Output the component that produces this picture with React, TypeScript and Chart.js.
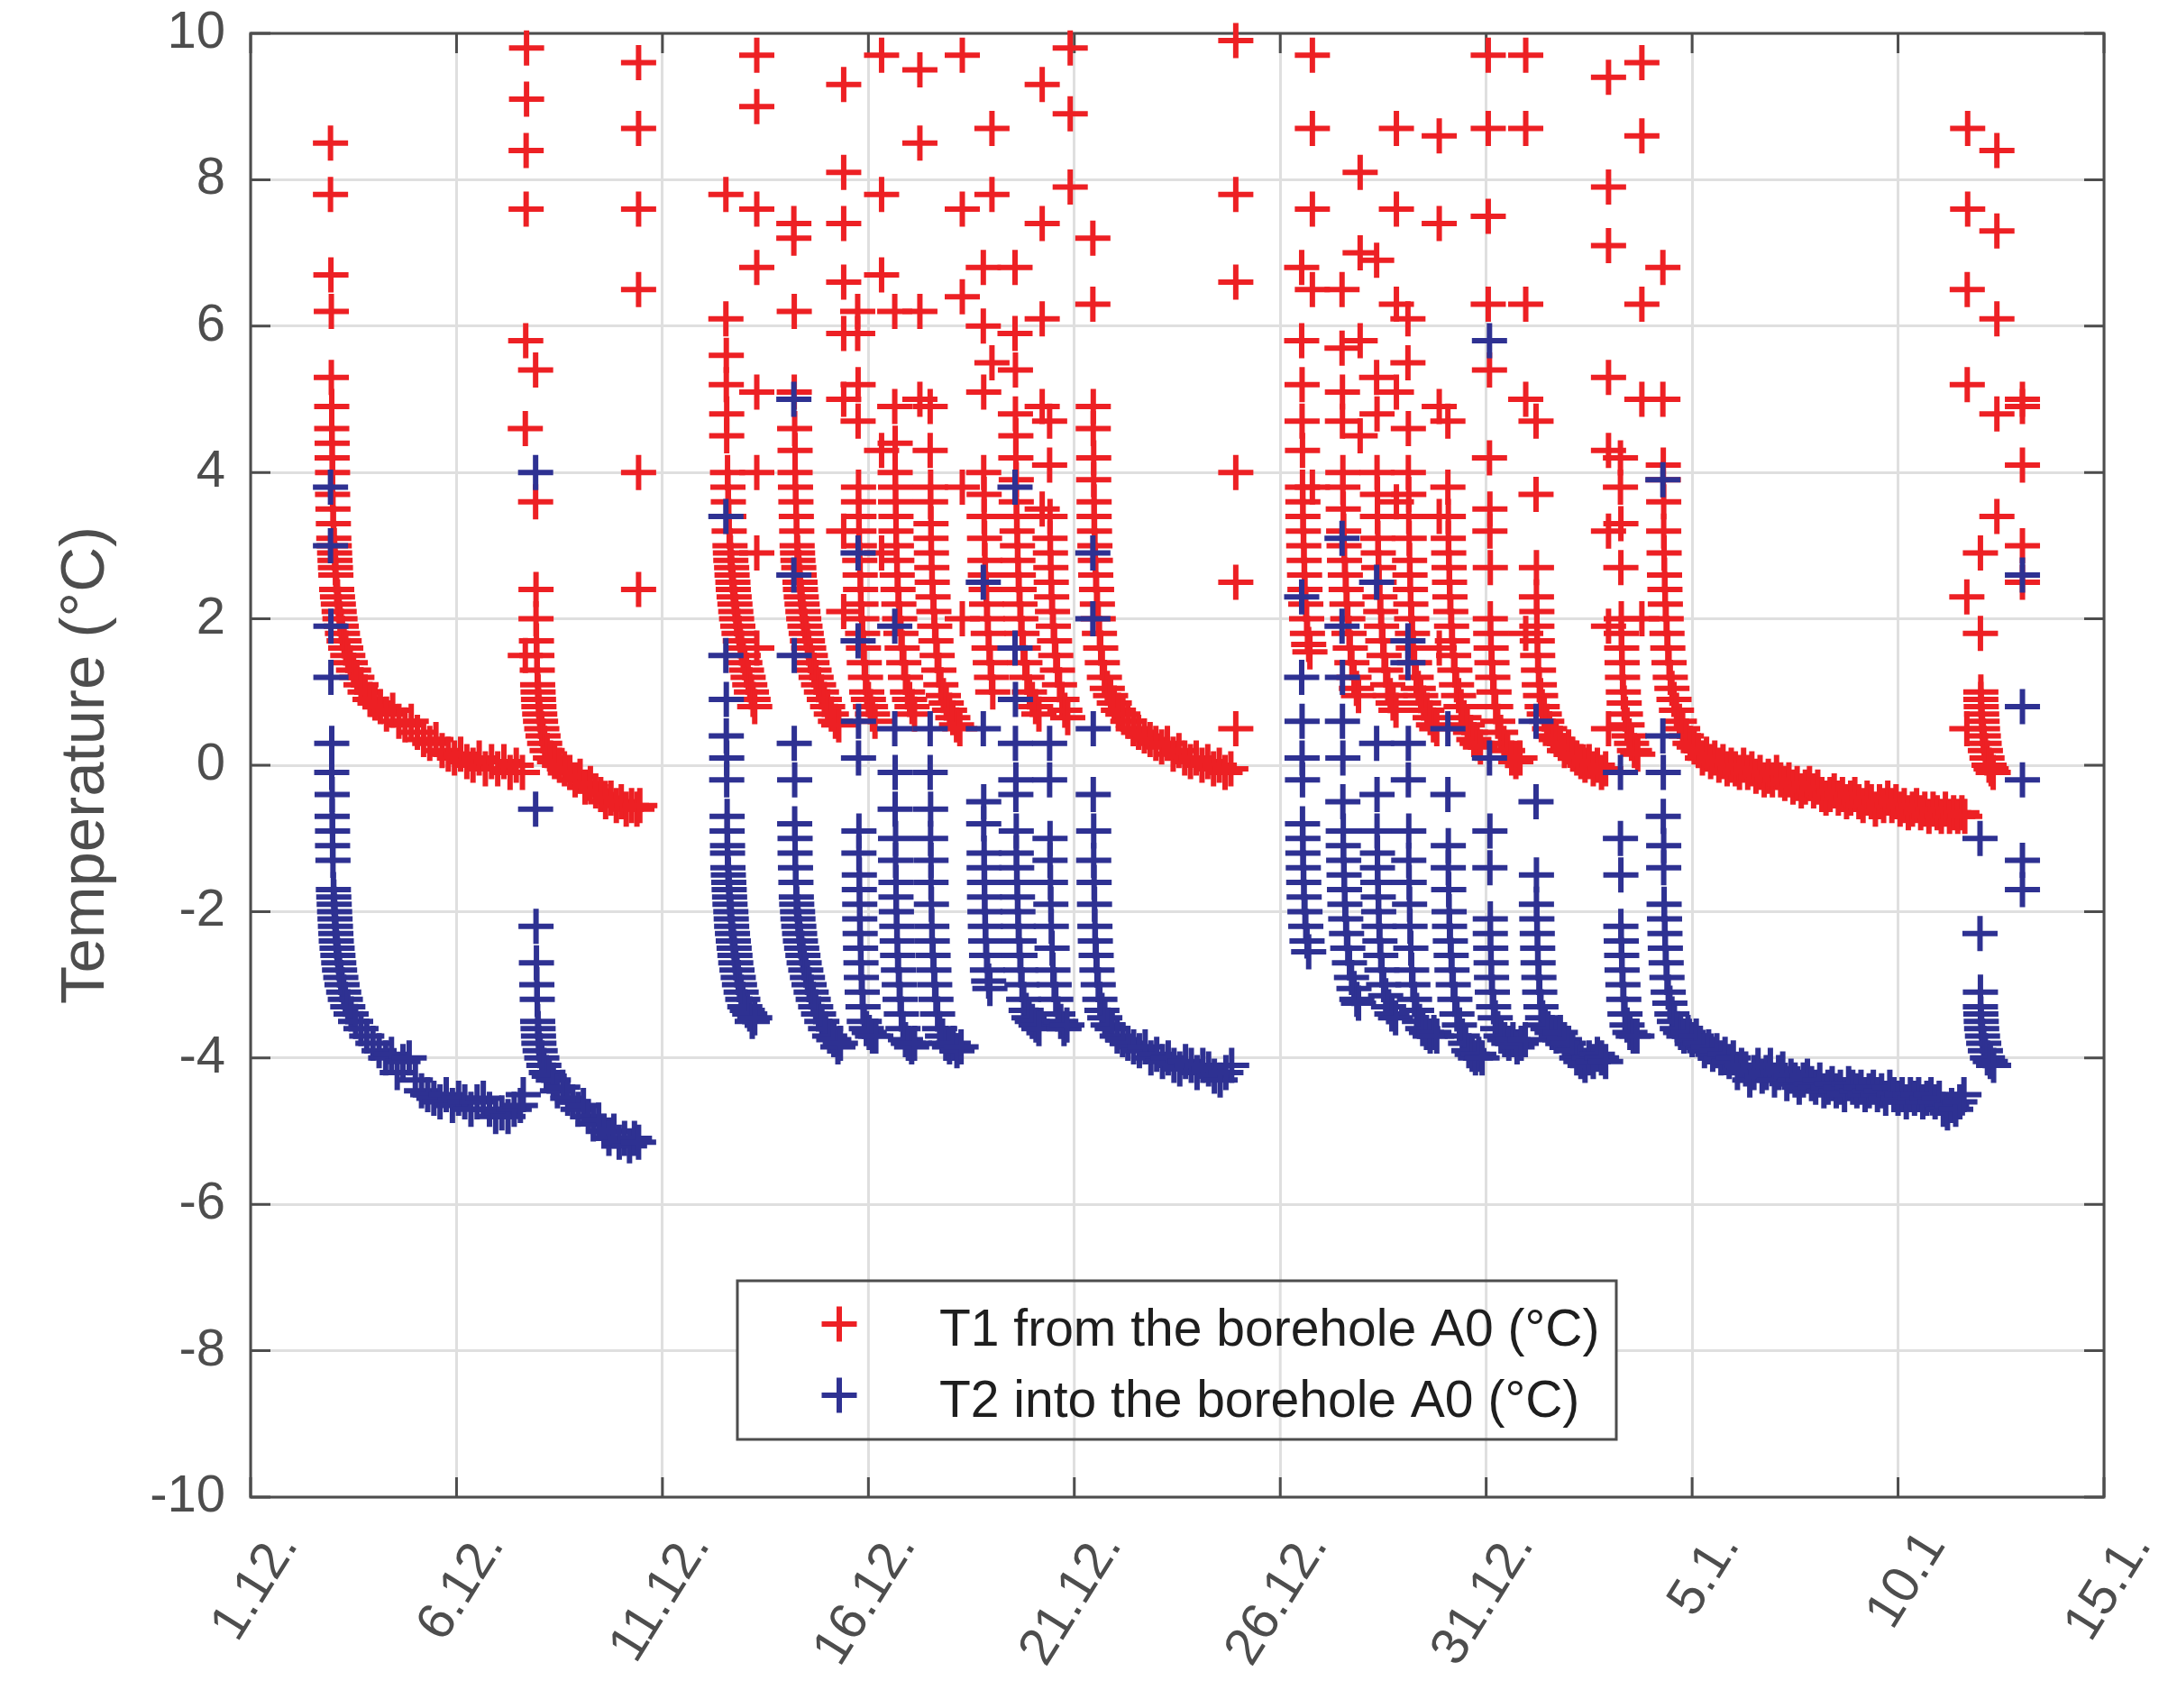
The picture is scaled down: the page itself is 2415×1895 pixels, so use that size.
import React, { useEffect, useRef } from "react";
import { Chart, registerables } from "chart.js";

Chart.register(...registerables);

// ---------- axis ticks ----------
const X_TICK_VALUES = [0, 5, 10, 15, 20, 25, 30, 35, 40, 45];
const X_TICK_LABELS = ["1.12.", "6.12.", "11.12.", "16.12.", "21.12.", "26.12.", "31.12.", "5.1.", "10.1", "15.1."];
const Y_TICK_VALUES = [-10, -8, -6, -4, -2, 0, 2, 4, 6, 8, 10];

const SERIES_NAMES = ["T1 from the borehole A0 (°C)", "T2 into the borehole A0 (°C)"];
const Y_TITLE = "Temperature (°C)";

// ---------- T1 (red), x = days since 1.12., y = °C ----------
const t1Dec2to7: [number, number][] = [
  [1.94,8.5],[1.94,7.8],[1.95,6.7],[1.96,6.2],[1.96,5.3],[1.97,4.9],[1.97,4.6],[1.98,4.4],[1.98,4.2],[1.99,4.0],
  [1.99,3.7],[2.0,3.5],[2.01,3.3],[2.02,3.1],[2.03,3.0],[2.04,2.9],[2.05,2.8],[2.06,2.7],[2.07,2.6],[2.09,2.4],
  [2.11,2.3],[2.13,2.2],[2.15,2.1],[2.17,2.0],[2.2,1.9],[2.23,1.8],[2.27,1.7],[2.31,1.6],[2.36,1.5],[2.42,1.4],
  [2.5,1.3],[2.58,1.2],[2.68,1.1],[2.78,1.0],[2.9,0.9],[3.02,0.85],[3.15,0.8],[3.3,0.7],[3.45,0.75],[3.6,0.6],
  [3.75,0.55],[3.9,0.6],[4.05,0.45],[4.2,0.35],[4.35,0.3],[4.5,0.35],[4.65,0.2],[4.8,0.15],[4.95,0.1],[5.1,0.15],
  [5.25,0.05],[5.4,0.0],[5.55,0.1],[5.7,-0.05],[5.85,0.05],[6.0,-0.05],[6.15,0.05],[6.3,-0.1],[6.45,0.0],[6.6,-0.1],
];
const t1Dec7to10: [number, number][] = [
  [6.7,9.8],[6.7,9.1],[6.69,8.4],[6.69,7.6],[6.68,5.8],[6.67,4.6],[6.67,1.5],[6.92,5.4],[6.92,3.6],[6.93,2.4],
  [6.93,2.0],[6.94,1.7],[6.95,1.5],[6.96,1.3],[6.97,1.1],[6.98,1.0],[6.99,0.9],[7.0,0.8],[7.02,0.7],[7.04,0.6],
  [7.07,0.5],[7.1,0.4],[7.14,0.3],[7.2,0.2],[7.28,0.1],[7.38,0.05],[7.5,0.0],[7.62,-0.05],[7.75,-0.1],[7.88,-0.2],
  [8.0,-0.15],[8.12,-0.3],[8.25,-0.25],[8.38,-0.35],[8.5,-0.4],[8.62,-0.5],[8.75,-0.45],[8.88,-0.55],[9.0,-0.5],
  [9.12,-0.6],[9.25,-0.55],[9.38,-0.6],[9.45,-0.55],
];
const t1Dec12to16: [number, number][] = [
  [11.54,7.8],[11.54,6.1],[11.55,5.6],[11.55,5.2],[11.56,4.8],[11.56,4.5],[11.58,4.0],[11.59,3.8],[11.6,3.6],[11.61,3.4],
  [11.62,3.2],[11.64,3.0],[11.65,2.9],[11.66,2.8],[11.68,2.7],[11.69,2.6],[11.71,2.5],[11.72,2.4],[11.74,2.3],[11.76,2.2],
  [11.78,2.1],[11.8,2.0],[11.83,1.9],[11.86,1.8],[11.89,1.7],[11.92,1.6],[11.96,1.5],[12.0,1.4],[12.04,1.3],[12.08,1.2],
  [12.12,1.1],[12.16,1.0],[12.2,0.9],[12.24,0.8],
  [13.19,7.4],[13.19,7.2],[13.2,6.2],[13.2,5.1],[13.21,4.6],[13.22,4.3],[13.22,4.0],[13.23,3.8],[13.24,3.6],[13.25,3.4],
  [13.26,3.2],[13.27,3.0],[13.28,2.9],[13.29,2.8],[13.31,2.7],[13.32,2.6],[13.34,2.5],[13.35,2.4],[13.37,2.3],[13.39,2.2],
  [13.41,2.1],[13.43,2.0],[13.46,1.9],[13.49,1.8],[13.52,1.7],[13.55,1.6],[13.59,1.5],[13.63,1.4],[13.68,1.3],[13.73,1.2],
  [13.79,1.1],[13.86,1.0],[13.93,0.9],[14.01,0.8],[14.1,0.7],[14.2,0.6],[14.28,0.55],
  [14.74,6.2],[14.74,5.9],[14.75,5.2],[14.75,4.7],[14.76,3.8],[14.76,3.6],[14.77,3.4],[14.77,3.2],[14.78,3.0],[14.79,2.8],
  [14.8,2.6],[14.81,2.4],[14.82,2.2],[14.84,2.0],[14.86,1.8],[14.88,1.6],[14.9,1.4],[14.93,1.2],[14.96,1.0],[15.0,0.9],
  [15.05,0.8],[15.1,0.7],[15.16,0.6],
];
const t1Dec16to21: [number, number][] = [
  [15.64,6.2],[15.64,4.9],[15.65,4.4],[15.65,4.0],[15.66,3.8],[15.66,3.6],[15.67,3.4],[15.67,3.2],[15.68,3.0],[15.69,2.8],
  [15.7,2.6],[15.72,2.4],[15.74,2.2],[15.76,2.0],[15.79,1.8],[15.82,1.6],[15.86,1.4],[15.9,1.2],[15.95,1.0],[16.0,0.9],
  [16.06,0.8],[16.12,0.7],
  [16.5,4.9],[16.5,4.3],[16.51,3.8],[16.51,3.6],[16.52,3.3],[16.52,3.1],[16.53,2.9],[16.54,2.7],[16.55,2.5],[16.57,2.3],
  [16.59,2.1],[16.61,1.9],[16.64,1.7],[16.67,1.5],[16.71,1.3],[16.76,1.1],[16.82,0.95],[16.89,0.85],[16.97,0.75],[17.05,0.65],
  [17.14,0.55],[17.22,0.5],
  [17.79,6.8],[17.79,6.0],[17.8,5.1],[17.8,4.0],[17.81,3.7],[17.81,3.4],[17.82,3.1],[17.83,2.8],[17.84,2.6],[17.86,2.4],
  [17.87,2.2],[17.89,2.0],[17.91,1.8],[17.93,1.6],[17.96,1.4],[17.99,1.2],[18.02,1.0],
  [18.56,6.8],[18.56,5.9],[18.57,5.4],[18.57,4.8],[18.58,4.5],[18.58,4.2],[18.59,3.9],[18.59,3.6],[18.6,3.4],[18.61,3.2],
  [18.62,3.0],[18.63,2.8],[18.64,2.6],[18.66,2.4],[18.68,2.2],[18.7,2.0],[18.73,1.8],[18.76,1.6],[18.8,1.4],[18.85,1.2],
  [18.91,1.0],[18.98,0.9],[19.06,0.8],[19.14,0.7],
  [19.4,4.7],[19.4,4.1],[19.41,3.4],[19.41,3.1],[19.42,2.9],[19.43,2.7],[19.44,2.5],[19.45,2.3],[19.47,2.1],[19.49,1.9],
  [19.52,1.7],[19.55,1.5],[19.59,1.3],[19.64,1.1],[19.7,0.9],[19.77,0.75],[19.84,0.65],
];
const t1Dec21to25: [number, number][] = [
  [20.45,7.2],[20.45,6.3],[20.46,4.9],[20.46,4.6],[20.47,4.2],[20.47,3.9],[20.48,3.6],[20.48,3.4],[20.49,3.2],[20.5,3.0],
  [20.51,2.8],[20.52,2.6],[20.54,2.4],[20.56,2.2],[20.58,2.0],[20.61,1.8],[20.64,1.6],[20.68,1.4],[20.73,1.2],[20.8,1.05],
  [20.88,0.95],[20.97,0.85],[21.07,0.75],[21.18,0.7],[21.3,0.6],[21.43,0.5],[21.56,0.45],[21.7,0.4],[21.84,0.35],[21.98,0.3],
  [22.12,0.25],[22.26,0.3],[22.4,0.15],[22.54,0.2],[22.68,0.1],[22.82,0.05],[22.96,0.1],[23.1,0.0],[23.24,0.05],[23.38,-0.05],
  [23.52,0.0],[23.66,-0.1],[23.8,-0.05],
];
const t1Dec26to31: [number, number][] = [
  [25.52,6.8],[25.52,5.8],[25.53,5.2],[25.53,4.7],[25.54,4.3],[25.54,3.8],[25.55,3.6],[25.55,3.4],[25.56,3.2],[25.57,3.0],
  [25.58,2.8],[25.59,2.6],[25.6,2.4],[25.62,2.2],[25.64,2.0],[25.66,1.8],[25.69,1.65],[25.72,1.55],
  [26.5,6.5],[26.5,5.7],[26.51,5.1],[26.51,4.7],[26.52,4.0],[26.52,3.8],[26.53,3.5],[26.54,3.2],[26.55,3.0],[26.56,2.8],
  [26.58,2.6],[26.6,2.4],[26.62,2.2],[26.64,2.0],[26.67,1.8],[26.7,1.6],[26.74,1.4],[26.79,1.2],[26.85,1.05],[26.9,0.95],
  [27.34,6.9],[27.34,5.3],[27.35,4.8],[27.35,4.0],[27.36,3.7],[27.36,3.4],[27.37,3.1],[27.38,2.9],[27.39,2.7],[27.4,2.5],
  [27.42,2.3],[27.44,2.1],[27.46,1.9],[27.49,1.7],[27.52,1.5],[27.56,1.3],[27.61,1.1],[27.67,0.95],[27.74,0.85],[27.81,0.75],
  [28.1,6.1],[28.1,5.5],[28.11,4.6],[28.11,4.0],[28.12,3.7],[28.12,3.4],[28.13,3.1],[28.14,2.8],[28.15,2.6],[28.16,2.4],
  [28.17,2.2],[28.19,2.0],[28.21,1.8],[28.23,1.6],[28.26,1.4],[28.3,1.2],[28.35,1.05],[28.41,0.95],[28.48,0.85],[28.56,0.75],
  [28.64,0.65],[28.72,0.55],[28.8,0.5],
  [29.07,4.7],[29.07,3.8],[29.08,3.4],[29.08,3.1],[29.09,2.9],[29.1,2.7],[29.11,2.5],[29.12,2.3],[29.14,2.1],[29.16,1.9],
  [29.18,1.7],[29.21,1.5],[29.24,1.3],[29.28,1.1],[29.33,0.95],[29.39,0.8],[29.46,0.65],[29.54,0.55],[29.62,0.45],[29.7,0.35],
  [29.78,0.3],[29.86,0.25],
];
const t1Dec31toJan5: [number, number][] = [
  [30.08,5.4],[30.08,4.2],[30.09,3.5],[30.09,3.2],[30.1,2.7],[30.1,2.0],[30.11,1.8],[30.12,1.6],[30.14,1.4],[30.16,1.2],
  [30.19,1.0],[30.23,0.8],[30.28,0.6],[30.35,0.45],[30.43,0.3],[30.52,0.2],[30.62,0.1],[30.72,0.05],[30.82,0.1],
  [31.21,4.7],[31.21,3.7],[31.22,2.7],[31.22,2.3],[31.23,2.1],[31.23,1.9],[31.24,1.7],[31.25,1.5],[31.27,1.3],[31.29,1.1],
  [31.32,0.95],[31.36,0.8],[31.41,0.7],[31.47,0.6],[31.54,0.5],[31.62,0.4],[31.7,0.35],[31.8,0.3],[31.9,0.2],[32.0,0.25],
  [32.1,0.15],[32.2,0.1],[32.3,0.05],[32.4,0.0],[32.5,0.05],[32.6,-0.05],[32.7,0.0],[32.8,-0.1],[32.9,-0.05],
  [33.26,4.2],[33.26,3.8],[33.27,3.3],[33.27,2.7],[33.28,2.0],[33.28,1.8],[33.29,1.6],[33.3,1.4],[33.31,1.2],[33.33,1.0],
  [33.35,0.85],[33.38,0.7],[33.42,0.55],[33.47,0.4],[33.53,0.3],[33.6,0.2],[33.68,0.15],
];
const t1Jan4to12: [number, number][] = [
  [34.29,6.8],[34.29,5.0],[34.3,4.1],[34.3,3.9],[34.31,3.6],[34.31,3.2],[34.32,2.9],[34.33,2.6],[34.34,2.4],[34.35,2.2],
  [34.37,2.0],[34.39,1.8],[34.41,1.6],[34.44,1.4],[34.47,1.2],[34.51,1.05],[34.56,0.9],[34.62,0.75],[34.69,0.6],[34.77,0.5],
  [34.86,0.4],[34.95,0.3],[35.05,0.25],[35.15,0.2],[35.25,0.1],[35.35,0.15],[35.45,0.05],[35.55,0.1],[35.65,0.0],[35.75,0.05],
  [35.85,-0.05],[35.95,0.0],[36.05,-0.05],[36.15,-0.1],[36.25,0.0],[36.35,-0.1],[36.45,-0.05],[36.55,-0.15],[36.65,-0.1],[36.75,-0.2],
  [36.85,-0.15],[36.95,-0.2],[37.05,-0.1],[37.15,-0.2],[37.25,-0.25],[37.35,-0.2],[37.45,-0.3],[37.55,-0.25],[37.65,-0.35],[37.75,-0.3],
  [37.85,-0.25],[37.95,-0.35],[38.05,-0.3],[38.15,-0.4],[38.25,-0.45],[38.35,-0.4],[38.45,-0.35],[38.55,-0.45],[38.65,-0.4],[38.75,-0.5],
  [38.85,-0.45],[38.95,-0.4],[39.05,-0.5],[39.15,-0.55],[39.25,-0.45],[39.35,-0.5],[39.45,-0.6],[39.55,-0.5],[39.65,-0.55],[39.75,-0.45],
  [39.85,-0.55],[39.95,-0.5],[40.05,-0.6],[40.15,-0.55],[40.25,-0.65],[40.35,-0.6],[40.45,-0.55],[40.55,-0.65],[40.65,-0.6],[40.75,-0.7],
  [40.85,-0.6],[40.95,-0.65],[41.05,-0.7],[41.15,-0.6],[41.25,-0.7],[41.35,-0.65],[41.45,-0.7],[41.55,-0.65],[41.62,-0.7],
  [41.69,8.7],[41.69,7.6],[41.68,6.5],[41.68,5.2],[41.67,2.3],[41.67,0.5],[42.0,2.9],[42.0,1.8],[42.01,1.0],[42.01,0.9],
  [42.02,0.8],[42.03,0.7],[42.04,0.6],[42.05,0.5],[42.07,0.4],[42.09,0.3],[42.12,0.2],[42.16,0.1],[42.21,0.0],[42.26,-0.05],
  [42.31,-0.1],
];
// isolated high readings of T1
const t1Spikes: [number, number][] = [
  [9.42,9.6],[9.42,8.7],[9.42,7.6],[9.42,6.5],[9.42,4.0],[9.42,2.4],
  [12.29,9.7],[12.29,9.0],[12.29,7.6],[12.29,6.8],[12.29,5.1],[12.29,4.0],[12.29,2.9],[12.29,1.6],
  [14.4,9.3],[14.4,8.1],[14.4,7.4],[14.4,6.6],[14.4,5.9],[14.4,5.0],[14.4,3.2],[14.4,2.1],
  [15.32,9.7],[15.32,7.8],[15.32,6.7],[15.32,4.3],[15.32,2.9],
  [16.25,9.5],[16.25,8.5],[16.25,6.2],[16.25,5.0],
  [17.28,9.7],[17.28,7.6],[17.28,6.4],[17.28,3.8],[17.28,2.0],
  [18.0,8.7],[18.0,7.8],[18.0,5.5],
  [19.22,9.3],[19.22,7.4],[19.22,6.1],[19.22,4.9],[19.22,3.5],
  [19.9,9.8],[19.9,8.9],[19.9,7.9],
  [23.92,9.9],[23.92,7.8],[23.92,6.6],[23.92,4.0],[23.92,2.5],[23.92,0.5],
  [25.78,9.7],[25.78,8.7],[25.78,7.6],[25.78,6.5],[25.78,3.8],
  [26.94,8.1],[26.94,7.0],[26.94,5.8],[26.94,4.5],
  [27.82,8.7],[27.82,7.6],[27.82,6.3],[27.82,5.1],[27.82,3.6],
  [28.86,8.6],[28.86,7.4],[28.86,4.9],[28.86,3.4],[28.86,1.6],
  [30.05,9.7],[30.05,8.7],[30.05,7.5],[30.05,6.3],
  [30.96,9.7],[30.96,8.7],[30.96,6.3],[30.96,5.0],[30.96,1.8],
  [32.97,9.4],[32.97,7.9],[32.97,7.1],[32.97,5.3],[32.97,4.3],[32.97,3.2],[32.97,1.9],[32.97,0.5],
  [33.78,9.6],[33.78,8.6],[33.78,6.3],[33.78,5.0],[33.78,2.0],
  [42.4,8.4],[42.4,7.3],[42.4,6.1],[42.4,4.8],[42.4,3.4],
  [43.02,5.0],[43.02,4.9],[43.02,4.1],[43.02,3.0],[43.02,2.5],
];

// ---------- T2 (blue) ----------
const t2Dec2to7: [number, number][] = [
  [1.94,3.8],[1.94,3.0],[1.95,1.9],[1.95,1.2],[1.97,0.3],[1.97,-0.1],[1.98,-0.4],[1.98,-0.7],[1.99,-0.9],[1.99,-1.1],
  [2.0,-1.3],[2.01,-1.7],[2.02,-1.8],[2.03,-1.9],[2.04,-2.0],[2.05,-2.1],[2.06,-2.2],[2.07,-2.3],[2.08,-2.4],[2.1,-2.5],
  [2.12,-2.6],[2.14,-2.7],[2.16,-2.8],[2.19,-2.9],[2.22,-3.0],[2.26,-3.1],[2.3,-3.2],[2.36,-3.3],[2.44,-3.4],[2.55,-3.5],
  [2.68,-3.6],[2.82,-3.7],[2.97,-3.8],[3.12,-3.9],[3.28,-4.0],[3.42,-3.95],[3.56,-4.2],[3.7,-4.05],[3.85,-4.0],[4.0,-4.3],
  [4.15,-4.45],[4.3,-4.5],[4.45,-4.55],[4.6,-4.6],[4.75,-4.5],[4.9,-4.65],[5.05,-4.55],[5.2,-4.6],[5.35,-4.7],[5.5,-4.6],
  [5.65,-4.55],[5.8,-4.7],[5.95,-4.8],[6.1,-4.75],[6.25,-4.8],[6.4,-4.7],[6.55,-4.65],[6.62,-4.5],
];
const t2Dec7to10: [number, number][] = [
  [6.92,4.0],[6.92,-0.6],[6.93,-2.2],[6.94,-2.7],[6.95,-3.0],[6.96,-3.2],[6.97,-3.5],[6.98,-3.6],[6.99,-3.7],[7.0,-3.8],
  [7.03,-3.9],[7.07,-4.0],[7.12,-4.1],[7.18,-4.2],[7.25,-4.25],[7.35,-4.3],[7.45,-4.45],[7.58,-4.4],[7.7,-4.55],[7.82,-4.6],
  [7.95,-4.7],[8.08,-4.65],[8.2,-4.8],[8.32,-4.9],[8.45,-4.85],[8.58,-5.0],[8.7,-5.1],[8.82,-5.0],[8.95,-5.15],[9.08,-5.1],
  [9.2,-5.2],[9.32,-5.1],[9.42,-5.15],
];
const t2Dec12to16: [number, number][] = [
  [11.54,3.4],[11.54,1.5],[11.55,0.9],[11.55,0.4],[11.56,0.1],[11.56,-0.2],[11.57,-0.7],[11.57,-0.9],[11.58,-1.1],[11.58,-1.2],
  [11.59,-1.4],[11.6,-1.5],[11.61,-1.6],[11.62,-1.7],[11.63,-1.8],[11.64,-1.9],[11.66,-2.0],[11.67,-2.1],[11.68,-2.2],[11.7,-2.3],
  [11.72,-2.4],[11.74,-2.5],[11.76,-2.6],[11.78,-2.7],[11.81,-2.8],[11.84,-2.9],[11.87,-3.0],[11.91,-3.1],[11.95,-3.2],[12.0,-3.3],
  [12.06,-3.35],[12.12,-3.4],[12.18,-3.5],[12.24,-3.45],
  [13.19,5.0],[13.19,2.6],[13.2,1.5],[13.2,0.3],[13.21,-0.2],[13.21,-0.8],[13.22,-1.0],[13.22,-1.2],[13.23,-1.4],[13.24,-1.6],
  [13.25,-1.8],[13.26,-1.9],[13.28,-2.0],[13.29,-2.1],[13.31,-2.2],[13.33,-2.3],[13.35,-2.4],[13.38,-2.5],[13.41,-2.6],[13.44,-2.7],
  [13.48,-2.8],[13.52,-2.9],[13.56,-3.0],[13.61,-3.1],[13.66,-3.2],[13.72,-3.3],[13.79,-3.4],[13.87,-3.5],[13.96,-3.6],[14.06,-3.7],
  [14.16,-3.75],[14.26,-3.85],[14.32,-3.8],
  [14.75,2.9],[14.75,1.7],[14.76,0.6],[14.76,0.1],[14.77,-0.9],[14.77,-1.2],[14.78,-1.5],[14.78,-1.7],[14.79,-1.9],[14.79,-2.1],
  [14.8,-2.3],[14.81,-2.5],[14.82,-2.7],[14.83,-2.9],[14.85,-3.1],[14.87,-3.3],[14.9,-3.5],[14.95,-3.6],[15.02,-3.65],[15.1,-3.7],
  [15.18,-3.7],
];
const t2Dec16to21: [number, number][] = [
  [15.64,1.9],[15.64,0.5],[15.65,-0.1],[15.65,-0.6],[15.66,-1.0],[15.66,-1.3],[15.67,-1.6],[15.67,-1.8],[15.68,-2.0],[15.69,-2.2],
  [15.7,-2.4],[15.71,-2.6],[15.73,-2.8],[15.75,-3.0],[15.77,-3.2],[15.8,-3.4],[15.84,-3.6],[15.9,-3.75],[15.97,-3.8],[16.05,-3.85],
  [16.12,-3.8],
  [16.5,0.5],[16.5,-0.1],[16.51,-0.6],[16.51,-1.0],[16.52,-1.3],[16.52,-1.6],[16.53,-1.9],[16.54,-2.2],[16.55,-2.4],[16.57,-2.6],
  [16.59,-2.8],[16.61,-3.0],[16.64,-3.2],[16.68,-3.4],[16.73,-3.6],[16.8,-3.7],[16.88,-3.8],[16.97,-3.85],[17.06,-3.8],[17.15,-3.9],
  [17.25,-3.85],
  [17.79,2.5],[17.79,0.5],[17.8,-0.5],[17.8,-0.8],[17.81,-1.2],[17.81,-1.4],[17.82,-1.6],[17.82,-1.8],[17.83,-2.0],[17.84,-2.2],
  [17.85,-2.4],[17.87,-2.6],[17.89,-2.8],[17.92,-2.95],[17.95,-3.05],
  [18.56,3.8],[18.56,1.6],[18.57,0.9],[18.57,0.3],[18.58,-0.2],[18.58,-0.4],[18.59,-0.9],[18.59,-1.2],[18.6,-1.4],[18.61,-1.6],
  [18.62,-1.8],[18.63,-2.0],[18.64,-2.2],[18.66,-2.4],[18.68,-2.6],[18.7,-2.8],[18.73,-3.0],[18.77,-3.2],[18.83,-3.35],[18.9,-3.45],
  [18.98,-3.5],[19.07,-3.55],[19.14,-3.6],
  [19.4,0.3],[19.4,-0.2],[19.41,-1.0],[19.41,-1.3],[19.42,-1.6],[19.43,-1.9],[19.44,-2.2],[19.46,-2.5],[19.48,-2.8],[19.51,-3.0],
  [19.55,-3.2],[19.6,-3.4],[19.67,-3.5],[19.75,-3.6],[19.82,-3.55],
];
const t2Dec21to25: [number, number][] = [
  [20.45,2.9],[20.45,2.0],[20.46,0.5],[20.46,-0.4],[20.47,-0.9],[20.47,-1.3],[20.48,-1.6],[20.49,-1.9],[20.5,-2.2],[20.51,-2.4],
  [20.53,-2.6],[20.55,-2.8],[20.58,-3.0],[20.62,-3.2],[20.67,-3.35],[20.74,-3.45],[20.82,-3.55],[20.92,-3.6],[21.04,-3.7],[21.17,-3.75],
  [21.3,-3.8],[21.44,-3.85],[21.58,-3.9],[21.72,-3.85],[21.86,-4.0],[22.0,-3.95],[22.14,-4.05],[22.28,-4.0],[22.42,-4.1],[22.56,-4.15],
  [22.7,-4.05],[22.84,-4.1],[22.98,-4.2],[23.12,-4.1],[23.26,-4.15],[23.4,-4.25],[23.54,-4.3],[23.68,-4.2],[23.82,-4.1],
];
const t2Dec26to31: [number, number][] = [
  [25.52,2.3],[25.52,1.2],[25.53,0.6],[25.53,0.1],[25.54,-0.2],[25.54,-0.8],[25.55,-1.0],[25.55,-1.2],[25.56,-1.4],[25.57,-1.6],
  [25.58,-1.8],[25.6,-2.0],[25.62,-2.2],[25.65,-2.4],[25.69,-2.55],
  [26.5,3.1],[26.5,1.9],[26.51,1.2],[26.51,0.6],[26.52,0.1],[26.52,-0.5],[26.53,-0.9],[26.53,-1.1],[26.54,-1.3],[26.55,-1.5],
  [26.56,-1.7],[26.57,-1.9],[26.59,-2.1],[26.61,-2.3],[26.64,-2.5],[26.68,-2.7],[26.73,-2.9],[26.79,-3.05],[26.86,-3.2],[26.9,-3.25],
  [27.34,2.5],[27.34,0.3],[27.35,-0.4],[27.35,-0.9],[27.36,-1.2],[27.36,-1.4],[27.37,-1.6],[27.38,-1.8],[27.39,-2.0],[27.4,-2.2],
  [27.42,-2.4],[27.44,-2.6],[27.47,-2.8],[27.51,-3.0],[27.56,-3.15],[27.63,-3.3],[27.71,-3.4],[27.8,-3.45],
  [28.1,1.7],[28.1,1.4],[28.11,0.3],[28.11,-0.2],[28.12,-0.9],[28.12,-1.3],[28.13,-1.6],[28.14,-1.9],[28.15,-2.2],[28.17,-2.5],
  [28.19,-2.8],[28.22,-3.0],[28.26,-3.2],[28.31,-3.35],[28.38,-3.5],[28.46,-3.6],[28.55,-3.65],[28.64,-3.7],[28.73,-3.65],[28.8,-3.7],
  [29.07,0.5],[29.07,-0.4],[29.08,-1.1],[29.08,-1.4],[29.09,-1.7],[29.1,-2.0],[29.11,-2.2],[29.13,-2.4],[29.15,-2.6],[29.17,-2.8],
  [29.2,-3.0],[29.24,-3.2],[29.29,-3.4],[29.35,-3.55],[29.42,-3.7],[29.5,-3.8],[29.58,-3.9],[29.66,-3.95],[29.74,-4.0],[29.82,-3.95],
  [29.9,-4.0],
];
const t2Dec31toJan5: [number, number][] = [
  [30.08,5.8],[30.08,0.1],[30.09,-0.9],[30.09,-1.4],[30.1,-2.1],[30.1,-2.3],[30.11,-2.5],[30.12,-2.7],[30.13,-2.9],[30.15,-3.1],
  [30.18,-3.3],[30.22,-3.45],[30.28,-3.6],[30.36,-3.7],[30.45,-3.75],[30.55,-3.8],[30.65,-3.75],[30.75,-3.85],[30.85,-3.8],[30.95,-3.75],
  [31.21,0.6],[31.21,-0.5],[31.22,-1.5],[31.22,-1.9],[31.23,-2.1],[31.24,-2.3],[31.25,-2.5],[31.26,-2.7],[31.28,-2.9],[31.3,-3.1],
  [31.33,-3.3],[31.37,-3.45],[31.43,-3.55],[31.5,-3.6],[31.6,-3.65],[31.7,-3.7],[31.8,-3.65],[31.9,-3.75],[32.0,-3.8],[32.1,-3.9],
  [32.2,-4.0],[32.3,-4.05],[32.4,-4.1],[32.5,-4.0],[32.6,-4.05],[32.7,-3.95],[32.8,-4.0],[32.9,-4.05],
  [33.26,-0.1],[33.26,-1.0],[33.27,-1.5],[33.27,-2.2],[33.28,-2.4],[33.29,-2.6],[33.3,-2.8],[33.32,-3.0],[33.34,-3.2],[33.37,-3.4],
  [33.42,-3.55],[33.49,-3.65],[33.57,-3.7],[33.66,-3.7],
];
const t2Jan4to13: [number, number][] = [
  [34.29,3.9],[34.29,0.4],[34.3,-0.1],[34.3,-0.7],[34.31,-1.1],[34.31,-1.4],[34.32,-1.9],[34.33,-2.1],[34.34,-2.3],[34.35,-2.5],
  [34.37,-2.7],[34.39,-2.9],[34.42,-3.1],[34.46,-3.25],[34.51,-3.4],[34.57,-3.5],[34.64,-3.6],[34.72,-3.65],[34.8,-3.7],[34.9,-3.65],
  [35.0,-3.75],[35.1,-3.7],[35.2,-3.8],[35.3,-3.9],[35.4,-3.85],[35.5,-3.95],[35.6,-3.9],[35.7,-4.0],[35.8,-3.95],[35.9,-4.05],
  [36.0,-4.0],[36.1,-4.2],[36.2,-4.1],[36.3,-4.15],[36.4,-4.3],[36.5,-4.2],[36.6,-4.1],[36.7,-4.25],[36.8,-4.2],[36.9,-4.1],
  [37.0,-4.3],[37.1,-4.2],[37.2,-4.15],[37.3,-4.35],[37.4,-4.25],[37.5,-4.3],[37.6,-4.4],[37.7,-4.3],[37.8,-4.25],[37.9,-4.35],
  [38.0,-4.4],[38.1,-4.3],[38.2,-4.45],[38.3,-4.4],[38.4,-4.35],[38.5,-4.45],[38.6,-4.4],[38.7,-4.5],[38.8,-4.35],[38.9,-4.4],
  [39.0,-4.45],[39.1,-4.4],[39.2,-4.5],[39.3,-4.45],[39.4,-4.4],[39.5,-4.5],[39.6,-4.45],[39.7,-4.55],[39.8,-4.4],[39.9,-4.5],
  [40.0,-4.55],[40.1,-4.5],[40.2,-4.6],[40.3,-4.5],[40.4,-4.55],[40.5,-4.5],[40.6,-4.6],[40.7,-4.55],[40.8,-4.5],[40.9,-4.6],
  [41.0,-4.55],[41.1,-4.7],[41.2,-4.75],[41.3,-4.65],[41.4,-4.7],[41.5,-4.6],[41.6,-4.5],
  [41.99,-1.0],[41.99,-2.3],[42.0,-3.1],[42.0,-3.3],[42.01,-3.4],[42.02,-3.5],[42.03,-3.6],[42.05,-3.7],[42.08,-3.8],[42.12,-3.9],
  [42.17,-4.0],[42.24,-4.05],[42.32,-4.1],
  [43.02,2.6],[43.02,0.8],[43.02,-0.2],[43.02,-1.3],[43.02,-1.7],
];

const T1_POINTS = [
  ...t1Dec2to7, ...t1Dec7to10, ...t1Dec12to16, ...t1Dec16to21, ...t1Dec21to25,
  ...t1Dec26to31, ...t1Dec31toJan5, ...t1Jan4to12, ...t1Spikes,
].map(([x, y]) => ({ x, y }));
const T2_POINTS = [
  ...t2Dec2to7, ...t2Dec7to10, ...t2Dec12to16, ...t2Dec16to21, ...t2Dec21to25,
  ...t2Dec26to31, ...t2Dec31toJan5, ...t2Jan4to13,
].map(([x, y]) => ({ x, y }));

// ---------- styling ----------
const W = 2415;
const H = 1895;
const RED = "#ED2024";
const BLUE = "#2E3192";
const AXIS = "#4D4D4D";
const GRID = "#DFDFDF";
const FONT = "'Liberation Sans', Arial, Helvetica, sans-serif";
const MARK_R = 19.5;
const MARK_W = 6;

function crossAt(ctx: CanvasRenderingContext2D, x: number, y: number, color: string) {
  ctx.save();
  ctx.strokeStyle = color;
  ctx.lineWidth = MARK_W;
  ctx.beginPath();
  ctx.moveTo(x - MARK_R, y);
  ctx.lineTo(x + MARK_R, y);
  ctx.moveTo(x, y - MARK_R);
  ctx.lineTo(x, y + MARK_R);
  ctx.stroke();
  ctx.restore();
}

const framePlugin = {
  id: "frame",
  beforeDatasetsDraw(chart: any) {
    const { ctx, chartArea: a, scales } = chart;
    const L = 22;
    ctx.save();
    ctx.strokeStyle = AXIS;
    ctx.lineWidth = 3;
    ctx.beginPath();
    for (const v of Y_TICK_VALUES) {
      const y = scales.y.getPixelForValue(v);
      ctx.moveTo(a.left, y); ctx.lineTo(a.left + L, y);
      ctx.moveTo(a.right, y); ctx.lineTo(a.right - L, y);
    }
    for (const v of X_TICK_VALUES) {
      const x = scales.x.getPixelForValue(v);
      ctx.moveTo(x, a.bottom); ctx.lineTo(x, a.bottom - L);
      ctx.moveTo(x, a.top); ctx.lineTo(x, a.top + L);
    }
    ctx.stroke();
    ctx.strokeRect(a.left, a.top, a.right - a.left, a.bottom - a.top);
    ctx.restore();
  },
};

const legendPlugin = {
  id: "boxLegend",
  afterDatasetsDraw(chart: any) {
    const { ctx, scales } = chart;
    const bx = 818, by = 1421, bw = 975, bh = 176;
    ctx.save();
    ctx.fillStyle = "#FFFFFF";
    ctx.fillRect(bx, by, bw, bh);
    // vertical grid lines show through the legend in the original
    ctx.strokeStyle = GRID;
    ctx.lineWidth = 3;
    ctx.beginPath();
    for (const v of X_TICK_VALUES) {
      const x = scales.x.getPixelForValue(v);
      if (x > bx && x < bx + bw) { ctx.moveTo(x, by); ctx.lineTo(x, by + bh); }
    }
    ctx.stroke();
    ctx.strokeStyle = AXIS;
    ctx.lineWidth = 3;
    ctx.strokeRect(bx, by, bw, bh);
    const rows = [1469, 1548];
    const colors = [RED, BLUE];
    ctx.font = `57px ${FONT}`;
    ctx.fillStyle = "#1E1E1E";
    ctx.textAlign = "left";
    ctx.textBaseline = "alphabetic";
    rows.forEach((ry, i) => {
      crossAt(ctx, 931, ry, colors[i]);
      ctx.fillText(SERIES_NAMES[i], 1042, ry + 24);
    });
    ctx.restore();
  },
};

export default function App() {
  const ref = useRef<HTMLCanvasElement | null>(null);

  useEffect(() => {
    if (!ref.current) return;
    const chart = new Chart(ref.current, {
      type: "scatter",
      data: {
        datasets: [
          {
            label: SERIES_NAMES[0],
            data: T1_POINTS,
            pointStyle: "cross",
            pointRadius: MARK_R,
            pointBorderWidth: MARK_W,
            borderColor: RED,
            backgroundColor: RED,
            pointHoverRadius: MARK_R,
            showLine: false,
            clip: false,
            order: 1,
          },
          {
            label: SERIES_NAMES[1],
            data: T2_POINTS,
            pointStyle: "cross",
            pointRadius: MARK_R,
            pointBorderWidth: MARK_W,
            borderColor: BLUE,
            backgroundColor: BLUE,
            pointHoverRadius: MARK_R,
            showLine: false,
            clip: false,
            order: 0,
          },
        ],
      },
      options: {
        responsive: false,
        devicePixelRatio: 1,
        animation: false,
        events: [],
        layout: { padding: { left: 0, top: 37, right: 81, bottom: 0 } },
        plugins: { legend: { display: false }, tooltip: { enabled: false } },
        scales: {
          x: {
            type: "linear",
            min: 0,
            max: 45,
            afterFit: (s: any) => { s.height = 234; s.paddingLeft = 0; s.paddingRight = 0; },
            afterBuildTicks: (s: any) => { s.ticks = X_TICK_VALUES.map((v) => ({ value: v })); },
            grid: { color: GRID, lineWidth: 3, drawTicks: false },
            border: { display: false },
            ticks: {
              autoSkip: false,
              minRotation: 58,
              maxRotation: 58,
              padding: 26,
              labelOffset: 40,
              color: AXIS,
              font: { family: FONT, size: 58 },
              callback: (v: any) => X_TICK_LABELS[Math.round(Number(v) / 5)] ?? "",
            },
          },
          y: {
            type: "linear",
            min: -10,
            max: 10,
            afterFit: (s: any) => { s.width = 278; s.paddingTop = 0; s.paddingBottom = 0; },
            afterBuildTicks: (s: any) => { s.ticks = Y_TICK_VALUES.map((v) => ({ value: v })); },
            grid: { color: GRID, lineWidth: 3, drawTicks: false },
            border: { display: false },
            ticks: {
              padding: 28,
              color: AXIS,
              font: { family: FONT, size: 58 },
              callback: (v: any) => String(v),
            },
            title: {
              display: true,
              text: Y_TITLE,
              color: AXIS,
              font: { family: FONT, size: 69 },
              padding: { top: 55, bottom: 0 },
            },
          },
        },
      },
      plugins: [framePlugin, legendPlugin],
    } as any);
    return () => chart.destroy();
  }, []);

  return (
    <div style={{ position: "absolute", left: 0, top: 0, width: W, height: H, background: "#fff" }}>
      <canvas ref={ref} width={W} height={H} style={{ width: W, height: H, display: "block" }} />
    </div>
  );
}
